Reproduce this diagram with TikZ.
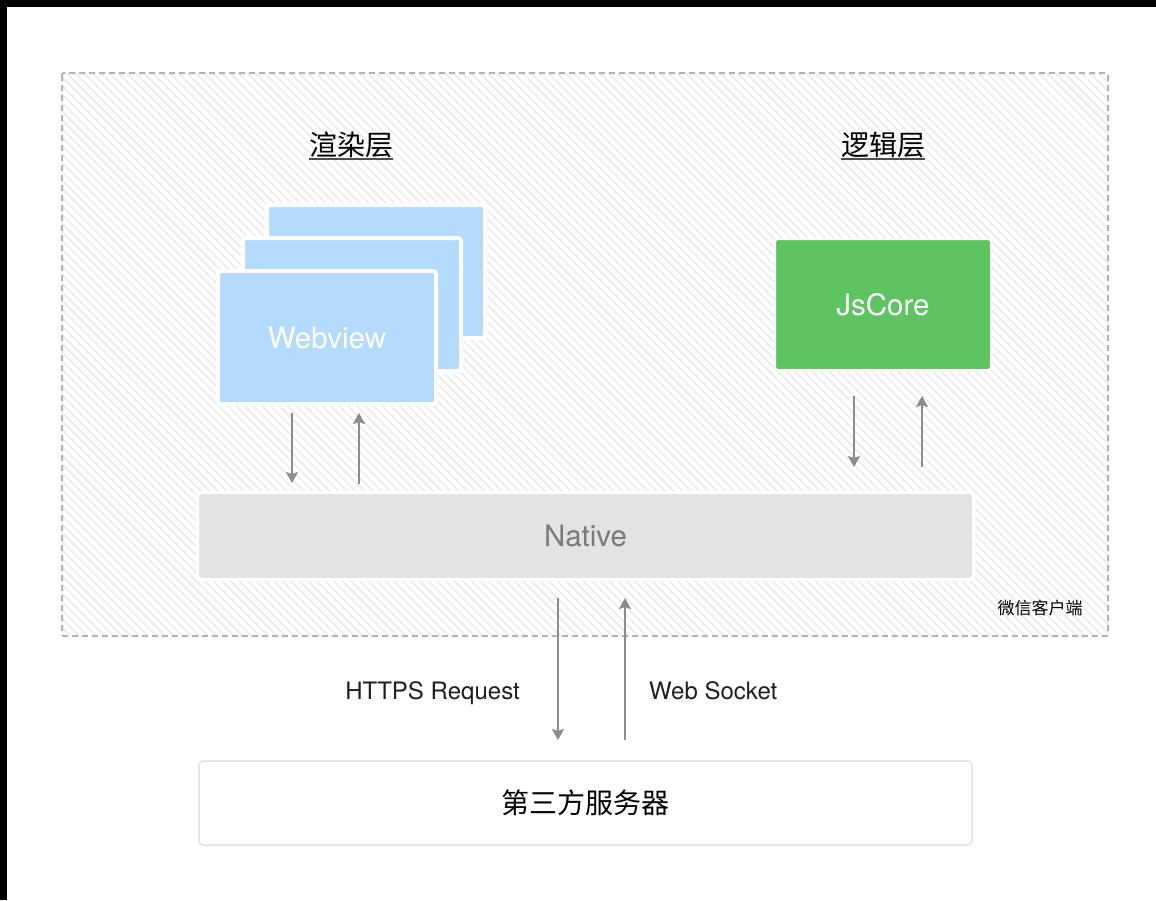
\documentclass[tikz,border=0pt]{standalone}
\usepackage{fontspec}
\setmainfont{TeX Gyre Heros}
\newfontfamily\cjk{Noto Sans CJK SC}
\usetikzlibrary{arrows.meta}
\definecolor{webblue}{HTML}{B4DAFD}
\definecolor{jsgreen}{HTML}{5EC462}
\definecolor{nativegray}{HTML}{E3E3E3}
\definecolor{nativetext}{HTML}{7A7A7A}
\definecolor{arrowgray}{HTML}{8C8C8C}
\definecolor{hatchgray}{HTML}{EBEBEB}
\definecolor{dashgray}{HTML}{B3B3B3}
\definecolor{serverborder}{HTML}{E2E2E2}
\tikzset{
  card/.style={fill=webblue, draw=white, line width=4pt, rounded corners=3pt,
    minimum width=218pt, minimum height=133pt, inner sep=0pt, outer sep=0pt},
  jsbox/.style={fill=jsgreen, draw=white, line width=2pt, rounded corners=3pt,
    minimum width=216pt, minimum height=131pt, inner sep=0pt, outer sep=0pt,
    text=white, font=\fontsize{29.5}{33}\selectfont},
  nativebox/.style={fill=nativegray, draw=white, line width=3pt, rounded corners=4pt,
    minimum width=776pt, minimum height=87pt, inner sep=0pt, outer sep=0pt,
    text=nativetext, font=\fontsize{29.5}{33}\selectfont},
  serverbox/.style={fill=white, draw=serverborder, line width=1.5pt, rounded corners=4pt,
    minimum width=773pt, minimum height=84pt, inner sep=0pt, outer sep=0pt,
    font=\cjk\fontsize{28}{32}\selectfont},
  title/.style={inner sep=0pt, outer sep=0pt, font=\cjk\fontsize{28}{32}\selectfont},
  uline/.style={draw=black!70, line width=2pt},
  arr/.style={draw=arrowgray, line width=2pt, -{Stealth[length=11pt,width=12pt,inset=2pt]}},
  label/.style={inner sep=0pt, font=\fontsize{24}{27}\selectfont, text=black!88},
}
\begin{document}
\begin{tikzpicture}[x=1pt,y=-1pt]
\useasboundingbox (0,0) rectangle (1156,900);
\fill[white] (0,0) rectangle (1156,900);
\fill[black] (0,0) rectangle (1156,7);
\fill[black] (0,0) rectangle (7,900);
% client area with hatch
\begin{scope}
  \clip (62,73) rectangle (1108,636);
  \foreach \i in {0,...,190} {
    \draw[hatchgray, line width=1.5pt] ({-501+\i*8.6},73) -- ({62+\i*8.6},636);
  }
\end{scope}
\draw[dashgray, line width=2pt, dash pattern=on 6pt off 4pt, rounded corners=2pt] (62,73) rectangle (1108,636);
% titles
\node[title] (t1) at (351,145) {渲染层};
\node[title] (t2) at (883,145) {逻辑层};
\draw[uline] ([yshift=-1pt]t1.south west) -- ([yshift=-1pt]t1.south east);
\draw[uline] ([yshift=-1pt]t2.south west) -- ([yshift=-1pt]t2.south east);
% webview stack
\node[card] (back) at (376,271.5) {};
\node[card] (middle) at (352,304.5) {};
\node[card, text=white, font=\fontsize{29.5}{33}\selectfont, text depth=0pt] (front) at (327,337.5) {Webview};
% jscore
\node[jsbox] (js) at (883,304.5) {JsCore};
% native
\node[nativebox] (native) at (585.5,536) {Native};
% client label
\node[inner sep=0pt, font=\cjk\fontsize{17}{20}\selectfont] (client) at (1040,608) {微信客户端};
% server
\node[serverbox] (server) at (585.5,803) {第三方服务器};
% arrows webview <-> native
\draw[arr] ([xshift=-35pt,yshift=-9pt]front.south) -- ([xshift=-293.5pt,yshift=9.5pt]native.north);
\draw[arr] ([xshift=-226.5pt,yshift=8.5pt]native.north) -- ([xshift=32pt,yshift=-9pt]front.south);
% arrows jscore <-> native
\draw[arr] ([xshift=-29pt,yshift=-26pt]js.south) -- ([xshift=268.5pt,yshift=25.5pt]native.north);
\draw[arr] ([xshift=336.5pt,yshift=25.5pt]native.north) -- ([xshift=39pt,yshift=-26pt]js.south);
% arrows native <-> server
\draw[arr] ([xshift=-27.5pt,yshift=-18.5pt]native.south) -- ([xshift=-27.5pt,yshift=21pt]server.north);
\draw[arr] ([xshift=39.5pt,yshift=21pt]server.north) -- ([xshift=39.5pt,yshift=-18.5pt]native.south);
% labels
\node[label, anchor=base east] (https) at (520,699) {HTTPS Request};
\node[label, anchor=base west] (ws) at (649,699) {Web Socket};
\end{tikzpicture}
\end{document}
